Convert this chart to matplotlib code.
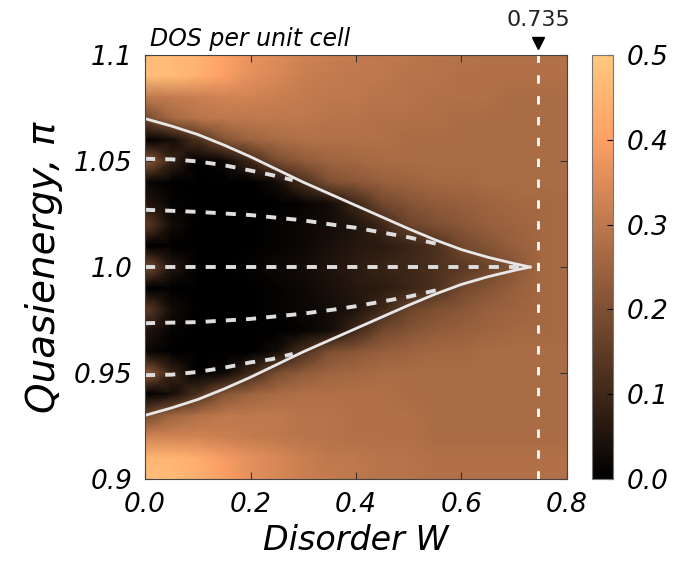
import numpy as np
import matplotlib
matplotlib.use("Agg")
import matplotlib.pyplot as plt

# grid of the DOS map
W_GRID = [0.00, 0.05, 0.10, 0.15, 0.20, 0.25, 0.30, 0.35, 0.40,
          0.45, 0.50, 0.55, 0.60, 0.65, 0.70, 0.75, 0.80]
E_GRID = [1.10, 1.09, 1.08, 1.07, 1.06, 1.05, 1.04, 1.03, 1.02, 1.01, 1.00,
          0.99, 0.98, 0.97, 0.96, 0.95, 0.94, 0.93, 0.92, 0.91, 0.90]
DOS = [
    [0.47, 0.47, 0.45, 0.41, 0.37, 0.35, 0.33, 0.32, 0.31, 0.30, 0.30, 0.29, 0.29, 0.28, 0.28, 0.28, 0.28],
    [0.48, 0.47, 0.44, 0.40, 0.36, 0.34, 0.32, 0.31, 0.30, 0.30, 0.29, 0.29, 0.28, 0.28, 0.28, 0.28, 0.28],
    [0.30, 0.31, 0.32, 0.33, 0.33, 0.32, 0.31, 0.30, 0.30, 0.29, 0.29, 0.28, 0.28, 0.28, 0.27, 0.27, 0.27],
    [0.18, 0.26, 0.29, 0.30, 0.30, 0.30, 0.30, 0.29, 0.29, 0.28, 0.28, 0.28, 0.27, 0.27, 0.27, 0.27, 0.27],
    [0.00, 0.03, 0.12, 0.21, 0.25, 0.27, 0.28, 0.28, 0.28, 0.28, 0.27, 0.27, 0.27, 0.27, 0.27, 0.27, 0.27],
    [0.24, 0.09, 0.00, 0.02, 0.10, 0.19, 0.23, 0.25, 0.26, 0.27, 0.27, 0.27, 0.27, 0.27, 0.27, 0.27, 0.27],
    [0.02, 0.00, 0.00, 0.00, 0.00, 0.03, 0.12, 0.20, 0.22, 0.24, 0.25, 0.26, 0.26, 0.27, 0.27, 0.27, 0.27],
    [0.06, 0.01, 0.00, 0.00, 0.00, 0.00, 0.01, 0.03, 0.10, 0.18, 0.21, 0.23, 0.24, 0.25, 0.26, 0.26, 0.27],
    [0.16, 0.03, 0.00, 0.00, 0.00, 0.01, 0.02, 0.03, 0.05, 0.10, 0.17, 0.20, 0.22, 0.24, 0.25, 0.26, 0.27],
    [0.00, 0.00, 0.00, 0.00, 0.00, 0.01, 0.02, 0.04, 0.06, 0.07, 0.09, 0.12, 0.18, 0.21, 0.24, 0.26, 0.27],
    [0.20, 0.06, 0.00, 0.00, 0.01, 0.02, 0.03, 0.05, 0.07, 0.09, 0.10, 0.12, 0.14, 0.17, 0.21, 0.26, 0.27],
    [0.00, 0.00, 0.00, 0.00, 0.00, 0.01, 0.02, 0.04, 0.06, 0.07, 0.09, 0.12, 0.18, 0.21, 0.24, 0.26, 0.27],
    [0.16, 0.03, 0.00, 0.00, 0.00, 0.01, 0.02, 0.03, 0.05, 0.10, 0.17, 0.20, 0.22, 0.24, 0.25, 0.26, 0.27],
    [0.06, 0.01, 0.00, 0.00, 0.00, 0.00, 0.01, 0.03, 0.10, 0.18, 0.21, 0.23, 0.24, 0.25, 0.26, 0.26, 0.27],
    [0.02, 0.00, 0.00, 0.00, 0.00, 0.03, 0.12, 0.20, 0.22, 0.24, 0.25, 0.26, 0.26, 0.27, 0.27, 0.27, 0.27],
    [0.24, 0.09, 0.00, 0.02, 0.10, 0.19, 0.23, 0.25, 0.26, 0.27, 0.27, 0.27, 0.27, 0.27, 0.27, 0.27, 0.27],
    [0.00, 0.03, 0.12, 0.21, 0.25, 0.27, 0.28, 0.28, 0.28, 0.28, 0.27, 0.27, 0.27, 0.27, 0.27, 0.27, 0.27],
    [0.18, 0.25, 0.28, 0.30, 0.30, 0.30, 0.29, 0.29, 0.28, 0.28, 0.28, 0.27, 0.27, 0.27, 0.27, 0.27, 0.27],
    [0.33, 0.33, 0.33, 0.32, 0.31, 0.30, 0.29, 0.29, 0.28, 0.28, 0.28, 0.27, 0.27, 0.27, 0.27, 0.27, 0.27],
    [0.45, 0.45, 0.43, 0.39, 0.36, 0.34, 0.32, 0.30, 0.30, 0.29, 0.29, 0.28, 0.28, 0.28, 0.28, 0.28, 0.28],
    [0.48, 0.47, 0.44, 0.40, 0.36, 0.34, 0.32, 0.31, 0.30, 0.29, 0.29, 0.28, 0.28, 0.28, 0.28, 0.28, 0.28],
]

# gap edges (solid white)
EDGE_W = [0.00, 0.05, 0.10, 0.15, 0.20, 0.25, 0.30, 0.35, 0.40, 0.45, 0.50, 0.55, 0.60, 0.65, 0.70, 0.73]
EDGE_UP = [1.070, 1.0665, 1.0625, 1.0575, 1.052, 1.046, 1.040, 1.0345, 1.029, 1.0235, 1.018, 1.0128, 1.0082, 1.0046, 1.0016, 1.000]
EDGE_LO = [0.930, 0.9335, 0.9375, 0.9425, 0.948, 0.954, 0.960, 0.9655, 0.971, 0.9765, 0.982, 0.9872, 0.9918, 0.9954, 0.9984, 1.000]

# in-gap states (dashed white)
L1_W = [0.00, 0.05, 0.10, 0.15, 0.20, 0.24, 0.28]
L1_E = [1.051, 1.0508, 1.0498, 1.048, 1.0455, 1.0434, 1.041]
L2_W = [0.00, 0.10, 0.20, 0.30, 0.36, 0.40, 0.50, 0.56]
L2_E = [1.027, 1.026, 1.0245, 1.022, 1.0198, 1.0185, 1.014, 1.0105]
L3_W = [0.00, 0.72]
L3_E = [1.000, 1.000]
L4_W = [0.00, 0.10, 0.20, 0.30, 0.36, 0.40, 0.50, 0.56]
L4_E = [0.9735, 0.974, 0.9755, 0.978, 0.980, 0.9815, 0.986, 0.9895]
L5_W = [0.00, 0.05, 0.10, 0.15, 0.20, 0.24, 0.28]
L5_E = [0.949, 0.9492, 0.9505, 0.9525, 0.955, 0.9565, 0.959]

W_CRIT = 0.745
W_CRIT_LABEL = "0.735"

plt.rcParams['font.family'] = ['DejaVu Sans']
plt.rcParams['font.style'] = 'italic'

fig = plt.figure(figsize=(6.74, 5.74), dpi=100)
ax = fig.add_axes([145 / 674, 1 - 479 / 574, 422 / 674, 424 / 574])

mesh = ax.pcolormesh(np.array(W_GRID), np.array(E_GRID), np.array(DOS),
                     cmap='copper', vmin=0, vmax=0.5, shading='gouraud')

ax.plot(EDGE_W, EDGE_UP, color='#e8e8e8', lw=2.0)
ax.plot(EDGE_W, EDGE_LO, color='#e8e8e8', lw=2.0)
for xs, ys in [(L1_W, L1_E), (L2_W, L2_E), (L3_W, L3_E), (L4_W, L4_E), (L5_W, L5_E)]:
    ax.plot(xs, ys, color='#dedede', lw=2.8, dashes=(2.6, 2.6))

ax.axvline(W_CRIT, color='white', lw=2, dashes=(3, 4.5))
ax.plot([W_CRIT], [1.028], marker='v', ms=9, color='black',
        transform=ax.get_xaxis_transform(), clip_on=False)
ax.text(W_CRIT, 1.058, W_CRIT_LABEL, transform=ax.get_xaxis_transform(),
        ha='center', va='bottom', fontsize=16, style='normal', color='#222222')
ax.text(0.012, 1.01, "DOS per unit cell", transform=ax.transAxes,
        ha='left', va='bottom', fontsize=17)

ax.set_xlim(0, 0.8)
ax.set_ylim(0.9, 1.1)
ax.set_xticks([0.0, 0.2, 0.4, 0.6, 0.8])
ax.set_xticklabels(["0.0", "0.2", "0.4", "0.6", "0.8"])
ax.set_yticks([0.9, 0.95, 1.0, 1.05, 1.1])
ax.set_yticklabels(["0.9", "0.95", "1.0", "1.05", "1.1"])
ax.tick_params(direction='in', length=5, top=True, right=True,
               labelsize=19, pad=9, color='#333333')
ax.set_xlabel("Disorder W", fontsize=24, labelpad=5)
ax.set_ylabel("Quasienergy, π", fontsize=28, labelpad=8)
for s in ax.spines.values():
    s.set_color('#444444')

cax = fig.add_axes([592 / 674, 1 - 479 / 574, 21 / 674, 424 / 574])
cb = fig.colorbar(mesh, cax=cax, ticks=[0.0, 0.1, 0.2, 0.3, 0.4, 0.5])
cb.ax.set_yticklabels(["0.0", "0.1", "0.2", "0.3", "0.4", "0.5"])
cb.ax.tick_params(direction='in', length=4, labelsize=19, pad=10)
cb.outline.set_edgecolor('#777777')

fig.savefig("out.png", dpi=100)
